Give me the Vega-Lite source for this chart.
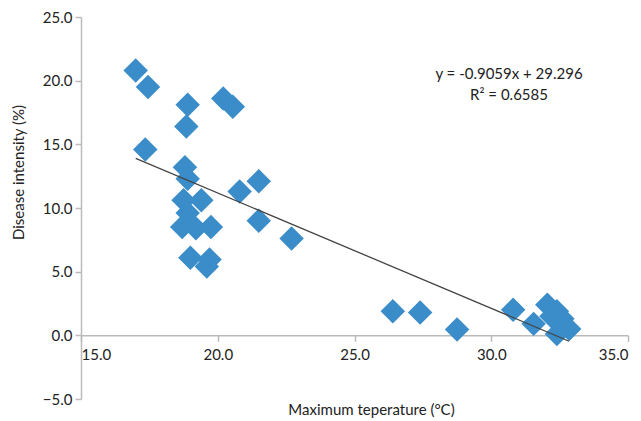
{
  "$schema": "https://vega.github.io/schema/vega-lite/v6.json",
  "width": 547,
  "height": 382,
  "autosize": {"type": "none"},
  "padding": {"left": 81, "top": 17, "right": 13, "bottom": 22},
  "background": "white",
  "config": {"view": {"stroke": null}, "font": "Lato"},
  "layer": [
    {
      "data": {
        "values": [
          {"temp": 17.0, "intensity": 20.8},
          {"temp": 17.45, "intensity": 19.5},
          {"temp": 17.35, "intensity": 14.6},
          {"temp": 18.9, "intensity": 18.1},
          {"temp": 18.85, "intensity": 16.4},
          {"temp": 20.2, "intensity": 18.6},
          {"temp": 20.55, "intensity": 17.95},
          {"temp": 18.8, "intensity": 13.2},
          {"temp": 18.9, "intensity": 12.3},
          {"temp": 18.75, "intensity": 10.6},
          {"temp": 19.4, "intensity": 10.6},
          {"temp": 18.9, "intensity": 9.6},
          {"temp": 18.7, "intensity": 8.5},
          {"temp": 19.2, "intensity": 8.4},
          {"temp": 19.75, "intensity": 8.5},
          {"temp": 19.0, "intensity": 6.1},
          {"temp": 19.7, "intensity": 5.95},
          {"temp": 19.6, "intensity": 5.4},
          {"temp": 20.8, "intensity": 11.3},
          {"temp": 21.5, "intensity": 12.1},
          {"temp": 21.5, "intensity": 9.0},
          {"temp": 22.7, "intensity": 7.6},
          {"temp": 26.4, "intensity": 1.9},
          {"temp": 27.4, "intensity": 1.8},
          {"temp": 28.75, "intensity": 0.45},
          {"temp": 30.8, "intensity": 2.0},
          {"temp": 31.55, "intensity": 0.9},
          {"temp": 32.05, "intensity": 2.4},
          {"temp": 32.2, "intensity": 1.5},
          {"temp": 32.4, "intensity": 1.9},
          {"temp": 32.6, "intensity": 1.3},
          {"temp": 32.4, "intensity": 0.1},
          {"temp": 32.85, "intensity": 0.5}
        ]
      },
      "mark": {"type": "point", "shape": "diamond", "filled": true, "size": 600, "color": "#3a8dc9", "opacity": 1},
      "encoding": {
        "x": {
          "field": "temp",
          "type": "quantitative",
          "scale": {"domain": [15, 35], "nice": false, "zero": false},
          "axis": {
            "title": "Maximum teperature (°C)",
            "values": [15, 20, 25, 30, 35],
            "format": ".1f",
            "offset": -63.67,
            "grid": false,
            "domainColor": "#bbbbbb",
            "domainWidth": 1.5,
            "tickColor": "#bbbbbb",
            "tickWidth": 1.5,
            "tickSize": 6,
            "labelFontSize": 15,
            "labelColor": "#222222",
            "labelPadding": 6,
            "labelOverlap": false,
            "titleFontSize": 15,
            "titleFontWeight": "normal",
            "titleColor": "#222222",
            "titleX": 290,
            "titleY": 74,
            "titleBaseline": "middle"
          }
        },
        "y": {
          "field": "intensity",
          "type": "quantitative",
          "scale": {"domain": [-5, 25], "nice": false, "zero": false},
          "axis": {
            "title": "Disease intensity (%)",
            "values": [-5, 0, 5, 10, 15, 20, 25],
            "format": ".1f",
            "grid": false,
            "domainColor": "#bbbbbb",
            "domainWidth": 1.5,
            "tickColor": "#bbbbbb",
            "tickWidth": 1.5,
            "tickSize": 6,
            "labelFontSize": 15,
            "labelColor": "#222222",
            "labelPadding": 3,
            "labelOverlap": false,
            "titleFontSize": 15,
            "titleFontWeight": "normal",
            "titleColor": "#222222",
            "titleX": -63,
            "titleY": 155,
            "titleBaseline": "middle"
          }
        }
      }
    },
    {
      "data": {
        "values": [
          {"temp": 17.0, "intensity": 13.896},
          {"temp": 32.85, "intensity": -0.463}
        ]
      },
      "mark": {"type": "line", "color": "#444444", "strokeWidth": 1.3},
      "encoding": {
        "x": {"field": "temp", "type": "quantitative"},
        "y": {"field": "intensity", "type": "quantitative"}
      }
    },
    {
      "data": {
        "values": [
          {"temp": 30.65, "intensity": 20.5, "label": "y = -0.9059x + 29.296"},
          {"temp": 30.65, "intensity": 18.85, "label": "R² = 0.6585"}
        ]
      },
      "mark": {"type": "text", "fontSize": 15, "color": "#222222", "align": "center", "baseline": "middle"},
      "encoding": {
        "x": {"field": "temp", "type": "quantitative"},
        "y": {"field": "intensity", "type": "quantitative"},
        "text": {"field": "label"}
      }
    }
  ]
}
